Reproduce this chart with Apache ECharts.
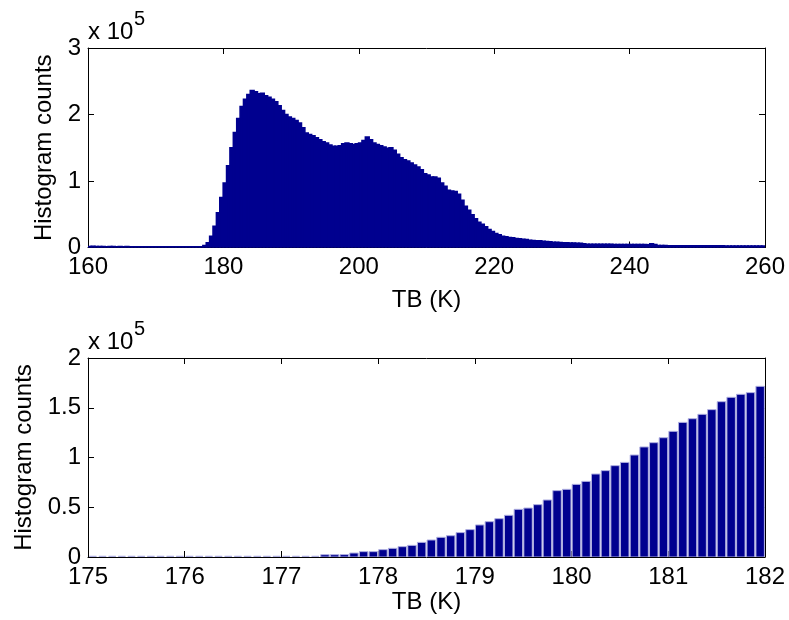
<!DOCTYPE html>
<html>
<head>
<meta charset="utf-8">
<script src="https://cdn.jsdelivr.net/npm/echarts@6/dist/echarts.min.js"></script>
<style>
  html, body { margin: 0; padding: 0; background: #fff; }
  #chart { width: 789px; height: 620px; }
</style>
</head>
<body>
<div id="chart"></div>
<script>
// top panel: histogram counts in 0.5 K bins, first bin starts at 160 K
const topStart = 160;
const topBin = 0.5;
const topCounts = [
  1500, 1800, 1400, 1600, 1300, 1200, 1400, 1300, 1200, 1300,
  1200, 1300, 1100, 1200, 1200, 1100, 1200, 1100, 1100, 1200,
  1100, 1100, 1200, 1100, 1000, 1100, 1100, 1000, 1100, 1000,
  1000, 1100, 1000, 1100, 3000, 7000, 17000, 32000, 52000, 75000,
  97000, 123000, 150000, 173000, 194000, 212000, 223000, 230000, 236000, 234000,
  231000, 232000, 228000, 226000, 223000, 219000, 213000, 206000, 200000, 196000,
  194000, 191000, 187000, 180000, 172000, 170000, 168000, 165000, 162000, 159000,
  157000, 154000, 152000, 152000, 153000, 156000, 157000, 156000, 155000, 156000,
  157000, 161000, 166000, 162000, 157000, 155000, 153000, 151000, 149000, 150000,
  146000, 140000, 135000, 132000, 130000, 127000, 124000, 121000, 117000, 111000,
  109000, 106000, 106000, 104000, 97000, 92000, 86000, 85000, 84000, 80000,
  71000, 62000, 56000, 49000, 43000, 38000, 35000, 31000, 27000, 24000,
  21000, 19000, 17000, 16000, 15000, 14500, 13500, 13000, 12500, 12000,
  11000, 10500, 10000, 10000, 9500, 9000, 8500, 8000, 7800, 7500,
  7200, 7000, 6800, 6600, 6400, 6200, 5500, 5000, 5000, 4900,
  4900, 4800, 4800, 4700, 4700, 4600, 4600, 4500, 4500, 4500,
  4400, 4400, 4400, 4300, 4300, 4200, 5500, 4600, 3000, 2800,
  2800, 2700, 2700, 2700, 2600, 2600, 2600, 2600, 2500, 2500,
  2500, 2500, 2500, 2400, 2400, 2400, 2400, 2400, 2300, 2300,
  2300, 2300, 2300, 2300, 2200, 2200, 2200, 2200, 2200, 2200
];

// bottom panel: zoom on the rising edge, 0.1 K bins from 175 K
const zoomStart = 175;
const zoomBin = 0.1;
const zoomCounts = [
  0, 0, 0, 0, 0, 0, 0, 0, 0, 0,
  0, 0, 0, 0, 0, 0, 0, 0, 0, 0,
  0, 0, 0, 0, 2300, 2300, 2400, 4000, 5400, 5400,
  7400, 8700, 10400, 11700, 14700, 17100, 19800, 21400, 24500, 27500,
  32200, 35500, 38500, 41900, 47900, 49200, 52600, 57300, 66700, 68000,
  73000, 76000, 83400, 86800, 91800, 95100, 102500, 110600, 114900, 119900,
  126300, 135300, 139000, 143400, 148100, 156100, 160500, 163500, 165200, 171500,
  176200
];

const topXTicks = { min: 160, max: 260, interval: 20 };
const topYTicks = { min: 0, max: 300000, interval: 100000 };
const zoomXTicks = { min: 175, max: 182, interval: 1 };
const zoomYTicks = { min: 0, max: 200000, interval: 50000 };

const chart = echarts.init(document.getElementById('chart'));

const font = 'Liberation Sans, Arial, Helvetica, sans-serif';
const txt = { fontFamily: font, fontSize: 24, color: '#000' };
const barColor = '#00008F';
const edgeColor = '#aeaee0';

function bins(counts, start, width) {
  return counts.map((c, i) => [start + i * width, start + (i + 1) * width, c]);
}

function barItem(fill, stroke, lw, inset) {
  return function (params, api) {
    const a = api.coord([api.value(0), api.value(2)]);
    const b = api.coord([api.value(1), 0]);
    if (api.value(2) === 0) {
      // empty bins only show their edge along the baseline
      return {
        type: 'line',
        shape: { x1: a[0] + inset + 0.5, y1: b[1] - 0.5, x2: b[0] - inset - 0.5, y2: b[1] - 0.5 },
        style: { stroke: edgeColor, lineWidth: 1.5 }
      };
    }
    return {
      type: 'rect',
      shape: { x: a[0] + inset, y: a[1], width: b[0] - a[0] - 2 * inset, height: b[1] - a[1] },
      style: { fill: fill, stroke: stroke, lineWidth: lw }
    };
  };
}

function xAxes(grid, ticks, gap) {
  const line = { show: true, onZero: false, lineStyle: { color: '#000', width: 1 } };
  const tick = { show: true, inside: true, length: 6, lineStyle: { color: '#000' } };
  return [
    Object.assign({ type: 'value', gridIndex: grid, position: 'bottom',
      axisLine: line, axisTick: tick, splitLine: { show: false },
      axisLabel: Object.assign({ margin: 8 }, txt),
      name: 'TB (K)', nameLocation: 'middle', nameGap: gap, nameTextStyle: txt }, ticks),
    Object.assign({ type: 'value', gridIndex: grid, position: 'top',
      axisLine: line, axisTick: tick, splitLine: { show: false },
      axisLabel: { show: false } }, ticks)
  ];
}

function yAxes(grid, ticks, gap) {
  const line = { show: true, onZero: false, lineStyle: { color: '#000', width: 1 } };
  const tick = { show: true, inside: true, length: 6, lineStyle: { color: '#000' } };
  return [
    Object.assign({ type: 'value', gridIndex: grid, position: 'left',
      axisLine: line, axisTick: tick, splitLine: { show: false },
      axisLabel: Object.assign({ margin: 7, formatter: v => String(v / 1e5) }, txt),
      name: 'Histogram counts', nameLocation: 'middle', nameGap: gap, nameTextStyle: txt }, ticks),
    Object.assign({ type: 'value', gridIndex: grid, position: 'right',
      axisLine: line, axisTick: tick, splitLine: { show: false },
      axisLabel: { show: false } }, ticks)
  ];
}

const option = {
  animation: false,
  backgroundColor: '#fff',
  grid: [
    { left: 88, top: 48, width: 677, height: 199.5 },
    { left: 88, top: 358, width: 677, height: 199 }
  ],
  xAxis: xAxes(0, topXTicks, 41).concat(xAxes(1, zoomXTicks, 28)),
  yAxis: yAxes(0, topYTicks, 32).concat(yAxes(1, zoomYTicks, 52)),
  graphic: [
    { type: 'text', x: 88, y: 32, style: { text: 'x 10', font: '24px ' + font, fill: '#000', verticalAlign: 'middle' } },
    { type: 'text', x: 134, y: 19, style: { text: '5', font: '20px ' + font, fill: '#000', verticalAlign: 'middle' } },
    { type: 'text', x: 88, y: 342, style: { text: 'x 10', font: '24px ' + font, fill: '#000', verticalAlign: 'middle' } },
    { type: 'text', x: 134, y: 329, style: { text: '5', font: '20px ' + font, fill: '#000', verticalAlign: 'middle' } }
  ],
  series: [
    {
      type: 'custom', xAxisIndex: 0, yAxisIndex: 0, clip: true,
      encode: { x: [0, 1], y: 2 },
      renderItem: barItem(barColor, barColor, 1.6, -0.2),
      data: bins(topCounts, topStart, topBin)
    },
    {
      type: 'custom', xAxisIndex: 2, yAxisIndex: 2, clip: true,
      encode: { x: [0, 1], y: 2 },
      renderItem: barItem(barColor, edgeColor, 1, 0.6),
      data: bins(zoomCounts, zoomStart, zoomBin)
    }
  ]
};

chart.setOption(option);
</script>
</body>
</html>
